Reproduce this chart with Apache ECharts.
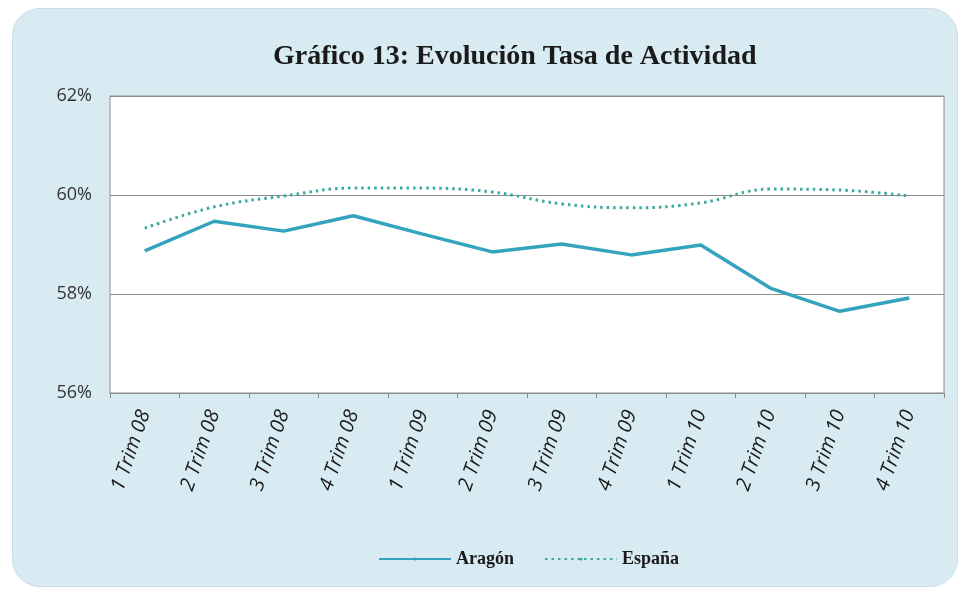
<!DOCTYPE html>
<html>
<head>
<meta charset="utf-8">
<script src="https://cdn.jsdelivr.net/npm/echarts@6/dist/echarts.min.js"></script>
<style>
  html, body { margin: 0; padding: 0; background: #fff; }
  #wrap {
    position: absolute; left: 12px; top: 8px; width: 944px; height: 577px;
    background: #d9ebf2; border-radius: 28px; border: 1px solid #c9dde5;
  }
  #chart { position: absolute; left: 0; top: 0; width: 961px; height: 590px; }
</style>
</head>
<body>
<div id="wrap"></div>
<div id="chart"></div>
<script>
var trimestres = ['1 Trim 08', '2 Trim 08', '3 Trim 08', '4 Trim 08',
                  '1 Trim 09', '2 Trim 09', '3 Trim 09', '4 Trim 09',
                  '1 Trim 10', '2 Trim 10', '3 Trim 10', '4 Trim 10']
var aragon = [58.87, 59.47, 59.27, 59.58, 59.21, 58.85, 59.01, 58.79, 58.99, 58.12, 57.65, 57.92]
var espana = [59.33, 59.76, 59.98, 60.14, 60.14, 60.06, 59.82, 59.74, 59.84, 60.12, 60.10, 59.98]

var chart = echarts.init(document.getElementById('chart'))

var option = {
	backgroundColor: 'transparent',
	animation: false,
	title: {
		text: 'Gráfico 13: Evolución Tasa de Actividad',
		left: 268,
		top: 38,
		textStyle: {
			fontFamily: 'Liberation Serif',
			fontWeight: 'bold',
			fontSize: 28,
			color: '#1a1a1a'
		}
	},
	legend: {
		top: 545,
		left: 373,
		itemWidth: 72,
		itemHeight: 4,
		itemGap: 30,
		textStyle: {
			fontFamily: 'Liberation Serif',
			fontWeight: 'bold',
			fontSize: 18,
			color: '#1a1a1a'
		},
		data: ['Aragón', 'España']
	},
	grid: {
		left: 110,
		right: 17,
		top: 96,
		bottom: 197,
		show: true,
		backgroundColor: '#ffffff',
		borderColor: '#8c8c8c',
		borderWidth: 1
	},
	xAxis: {
		type: 'category',
		data: trimestres,
		boundaryGap: true,
		axisLine: { lineStyle: { color: '#8c8c8c' } },
		axisTick: { show: true, length: 5, lineStyle: { color: '#8c8c8c' } },
		axisLabel: {
			rotate: 71,
			margin: 18,
			fontFamily: 'Open Sans',
			fontStyle: 'italic',
			fontSize: 20,
			color: '#1a1a1a'
		}
	},
	yAxis: {
		type: 'value',
		min: 56,
		max: 62,
		interval: 2,
		axisLine: { show: false },
		axisTick: { show: false },
		axisLabel: {
			margin: 18,
			fontFamily: 'Open Sans',
			fontSize: 18,
			color: '#333',
			formatter: function (v) { return v + '%' }
		},
		splitLine: { lineStyle: { color: '#8c8c8c', width: 1 } }
	},
	series: [
		{
			name: 'Aragón',
			type: 'line',
			data: aragon,
			symbol: 'none',
			lineStyle: { color: '#34a3bd', width: 3.5 },
			itemStyle: { color: '#34a3bd' }
		},
		{
			name: 'España',
			type: 'line',
			data: espana,
			smooth: 0.4,
			symbol: 'none',
			lineStyle: { color: '#3aaa9e', width: 3, type: [2.5, 4] },
			itemStyle: { color: '#3aaa9e' }
		}
	]
}

chart.setOption(option)
</script>
</body>
</html>
